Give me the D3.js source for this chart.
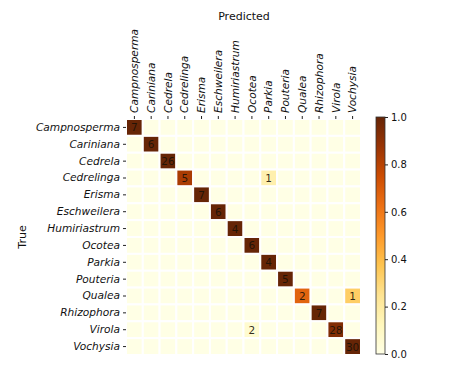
<!DOCTYPE html>
<html><head><meta charset="utf-8">
<script src="https://cdn.jsdelivr.net/npm/d3@7"></script>
<style>body{margin:0;background:#fff}svg{display:block}text{font-family:"DejaVu Sans",sans-serif}</style>
</head><body><svg id="c" width="461" height="382"></svg>
<script>
const classes = ["Campnosperma","Cariniana","Cedrela","Cedrelinga","Erisma","Eschweilera","Humiriastrum","Ocotea","Parkia","Pouteria","Qualea","Rhizophora","Virola","Vochysia"];
const counts = [
  [7,0,0,0,0,0,0,0,0,0,0,0,0,0],
  [0,6,0,0,0,0,0,0,0,0,0,0,0,0],
  [0,0,26,0,0,0,0,0,0,0,0,0,0,0],
  [0,0,0,5,0,0,0,0,1,0,0,0,0,0],
  [0,0,0,0,7,0,0,0,0,0,0,0,0,0],
  [0,0,0,0,0,6,0,0,0,0,0,0,0,0],
  [0,0,0,0,0,0,4,0,0,0,0,0,0,0],
  [0,0,0,0,0,0,0,6,0,0,0,0,0,0],
  [0,0,0,0,0,0,0,0,4,0,0,0,0,0],
  [0,0,0,0,0,0,0,0,0,5,0,0,0,0],
  [0,0,0,0,0,0,0,0,0,0,2,0,0,1],
  [0,0,0,0,0,0,0,0,0,0,0,7,0,0],
  [0,0,0,0,0,0,0,2,0,0,0,0,28,0],
  [0,0,0,0,0,0,0,0,0,0,0,0,0,30]
];
const cbTicks = [0.0,0.2,0.4,0.6,0.8,1.0];
const brewer = ["#ffffe5","#fff7bc","#fee391","#fec44f","#fe9929","#ec7014","#cc4c02","#993404","#662506"];

const svg = d3.select("#c");
const L = 126, R = 361, T = 119, B = 355;
const x = d3.scaleBand().domain(classes).range([L, R]);
const y = d3.scaleBand().domain(classes).range([T, B]);
const color = d3.scaleLinear().domain(brewer.map((d,i)=>i/(brewer.length-1))).range(brewer).clamp(true);

const cells = [];
counts.forEach((row,i)=>{
  const s = d3.sum(row);
  row.forEach((v,j)=>cells.push({r:classes[i], c:classes[j], v, p: s? v/s : 0}));
});

const g = svg.append("g");
g.selectAll("rect.cell").data(cells).join("rect")
  .attr("x", d=>x(d.c)).attr("y", d=>y(d.r))
  .attr("width", x.bandwidth()).attr("height", y.bandwidth())
  .attr("fill", d=>color(d.p))
  .attr("stroke", "#ffffff").attr("stroke-width", 2);

g.selectAll("text.val").data(cells.filter(d=>d.v>0)).join("text")
  .attr("x", d=>x(d.c)+x.bandwidth()/2).attr("y", d=>y(d.r)+y.bandwidth()/2)
  .attr("text-anchor","middle").attr("dominant-baseline","central")
  .attr("font-size", 10.5).attr("fill", "#1a1208").attr("fill-opacity",0.9)
  .text(d=>d.v);

// axes
const xa = svg.append("g").attr("transform", `translate(0,${T})`)
  .call(d3.axisTop(x).tickSize(3).tickPadding(3));
xa.select(".domain").remove();
xa.selectAll("line").attr("stroke","#222");
xa.selectAll("text").attr("transform","rotate(-90)").attr("text-anchor","start")
  .attr("x", 6).attr("y", 0).attr("dy","0.35em")
  .attr("font-size",10.6).attr("font-style","italic").attr("fill","#111").attr("font-family","DejaVu Sans");

const ya = svg.append("g").attr("transform", `translate(${L},0)`)
  .call(d3.axisLeft(y).tickSize(3).tickPadding(3));
ya.select(".domain").remove();
ya.selectAll("line").attr("stroke","#222");
ya.selectAll("text").attr("font-size",10.6).attr("font-style","italic").attr("fill","#111").attr("font-family","DejaVu Sans");

svg.append("text").attr("x", 244).attr("y", 20).attr("text-anchor","middle")
  .attr("font-size",11).attr("fill","#111").text("Predicted");
svg.append("text").attr("transform", `translate(26,${(T+B)/2}) rotate(-90)`).attr("text-anchor","middle")
  .attr("font-size",11).attr("fill","#111").text("True");

// colorbar
const cbX = 376, cbW = 9, cbT = 117, cbB = 354;
const defs = svg.append("defs");
const grad = defs.append("linearGradient").attr("id","cbg").attr("x1",0).attr("y1",1).attr("x2",0).attr("y2",0);
brewer.forEach((c,i)=>grad.append("stop").attr("offset", i/(brewer.length-1)).attr("stop-color", c));
svg.append("rect").attr("x",cbX).attr("y",cbT).attr("width",cbW).attr("height",cbB-cbT)
  .attr("fill","url(#cbg)").attr("stroke","#333").attr("stroke-width",0.8);
const cy = d3.scaleLinear().domain([0,1]).range([cbB, cbT]);
const ca = svg.append("g").attr("transform", `translate(${cbX+cbW},0)`)
  .call(d3.axisRight(cy).tickValues(cbTicks).tickFormat(d3.format(".1f")).tickSize(3).tickPadding(3));
ca.select(".domain").remove();
ca.selectAll("line").attr("stroke","#222");
ca.selectAll("text").attr("font-size",10).attr("fill","#111").attr("font-family","DejaVu Sans");
</script></body></html>
